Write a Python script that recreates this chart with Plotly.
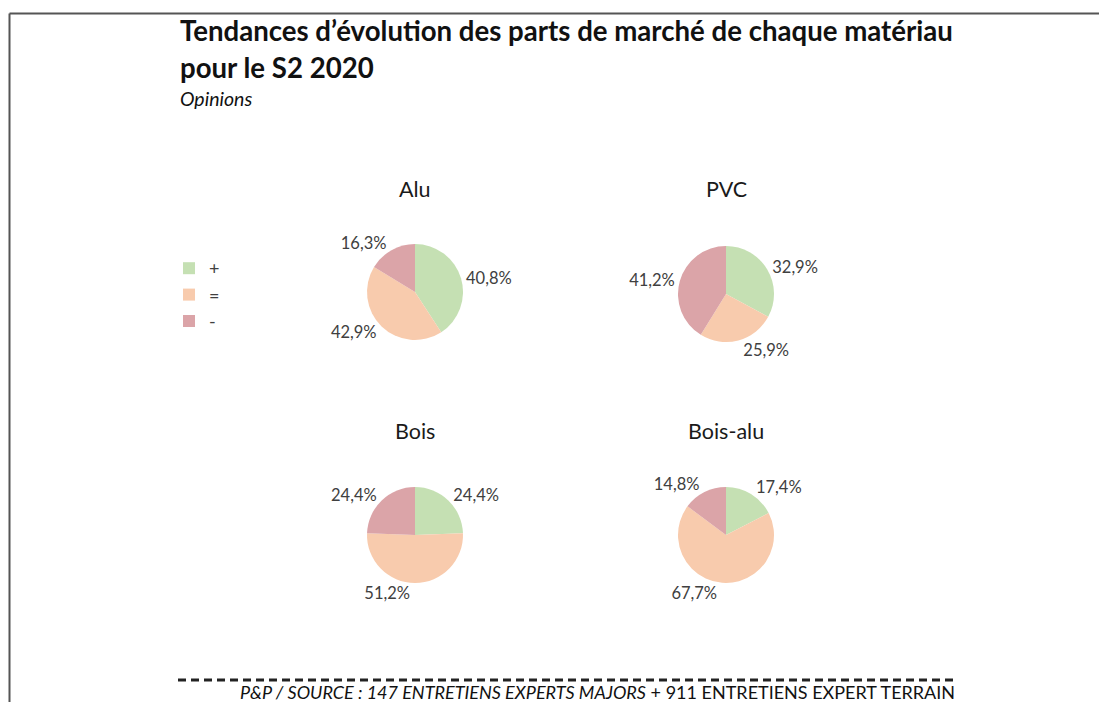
import plotly.graph_objects as go

# ---- data ----
categories = ["+", "=", "-"]
materials = ["Alu", "PVC", "Bois", "Bois-alu"]
alu = [40.8, 42.9, 16.3]
pvc = [32.9, 25.9, 41.2]
bois = [24.4, 51.2, 24.4]
bois_alu = [17.4, 67.7, 14.8]
series = [alu, pvc, bois, bois_alu]

colors = ["#c5e0b3", "#f8cbad", "#dba4a8"]
W, H = 1099, 702
FONT = "Lato"
TXT = "#404040"

# pie centers (px) and radius
centers = [(415, 292), (726, 294), (415, 535), (726, 535)]
R = 48

fig = go.Figure()
for i, (name, vals) in enumerate(zip(materials, series)):
    cx, cy = centers[i]
    fig.add_trace(go.Pie(
        labels=categories, values=vals, name=name,
        sort=False, direction="clockwise", rotation=0,
        marker=dict(colors=colors, line=dict(width=0)),
        texttemplate="%{value:.1f}%", textposition="outside",
        textfont=dict(family=FONT, size=16.5, color=TXT),
        domain=dict(x=[(cx - R) / W, (cx + R) / W],
                    y=[1 - (cy + R) / H, 1 - (cy - R) / H]),
        showlegend=(i == 0), hoverinfo="label+value",
    ))

annotations = []
title_pos = [(415, 189), (726, 189), (415, 431), (726, 431)]
for name, (x, y) in zip(materials, title_pos):
    annotations.append(dict(text=name, x=x / W, y=1 - y / H, xref="paper", yref="paper",
                            showarrow=False, xanchor="center", yanchor="middle",
                            font=dict(family=FONT, size=21.5, color="#1a1a1a")))

annotations += [
    dict(text="<b>Tendances d’évolution des parts de marché de chaque matériau</b>",
         x=178 / W, y=1 - 31 / H, xref="paper", yref="paper", showarrow=False,
         xanchor="left", yanchor="middle", font=dict(family=FONT, size=27.6, color="#111")),
    dict(text="<b>pour le S2 2020</b>",
         x=178 / W, y=1 - 67 / H, xref="paper", yref="paper", showarrow=False,
         xanchor="left", yanchor="middle", font=dict(family=FONT, size=27.6, color="#111")),
    dict(text="<i>Opinions</i>",
         x=178 / W, y=1 - 99 / H, xref="paper", yref="paper", showarrow=False,
         xanchor="left", yanchor="middle", font=dict(family=FONT, size=19.5, color="#111")),
    dict(text="<i>P&P / SOURCE : 147 ENTRETIENS EXPERTS MAJORS</i> + 911 ENTRETIENS EXPERT TERRAIN",
         x=957 / W, y=1 - 692 / H, xref="paper", yref="paper", showarrow=False,
         xanchor="right", yanchor="middle", font=dict(family=FONT, size=18, color="#111")),
]

shapes = [
    dict(type="line", xref="paper", yref="paper", x0=9.5 / W, x1=1.0, y0=1 - 13.5 / H, y1=1 - 13.5 / H,
         line=dict(color="#555555", width=2)),
    dict(type="line", xref="paper", yref="paper", x0=9.5 / W, x1=9.5 / W, y0=1 - 13.5 / H, y1=0,
         line=dict(color="#555555", width=2)),
    dict(type="line", xref="paper", yref="paper", x0=178 / W, x1=957 / W, y0=1 - 680 / H, y1=1 - 680 / H,
         line=dict(color="#222222", width=3, dash="8px,5px")),
]

fig.update_layout(
    width=W, height=H, margin=dict(l=0, r=0, t=0, b=0),
    paper_bgcolor="white", plot_bgcolor="white",
    separators=", ",
    annotations=annotations, shapes=shapes,
    legend=dict(x=169 / W, y=1 - 250 / H, xanchor="left", yanchor="top",
                font=dict(family=FONT, size=18, color=TXT), bgcolor="rgba(0,0,0,0)"),
    font=dict(family=FONT),
)

fig.write_html("out.html", config={"displayModeBar": False},
               post_script="document.body.style.margin='0';document.body.style.overflow='hidden';")
